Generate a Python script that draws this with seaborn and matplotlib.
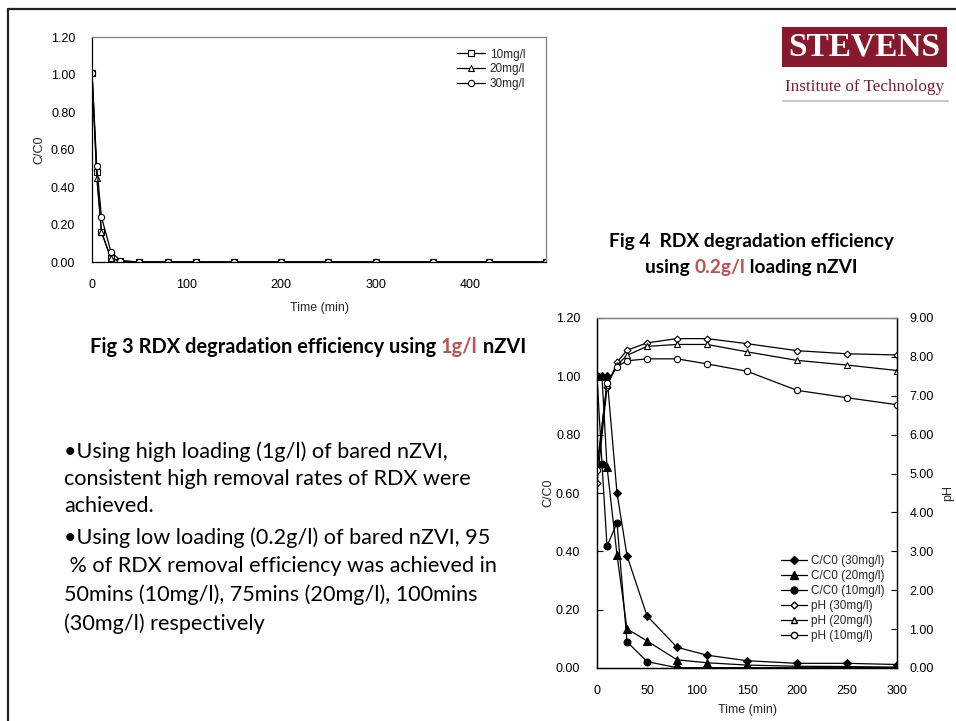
import numpy as np
import pandas as pd
import matplotlib
matplotlib.use('Agg')
import matplotlib.pyplot as plt
from matplotlib.patches import Rectangle
from matplotlib.lines import Line2D
import seaborn as sns

# Fig 3 data (1 g/l nZVI)
t3 = [0, 5, 10, 20, 30, 50, 80, 110, 150, 200, 250, 300, 360, 420, 480]
c3_10 = [1.01, 0.48, 0.16, 0.02, 0.005, 0, 0, 0, 0, 0, 0, 0, 0, 0, 0]
c3_20 = [1.01, 0.45, 0.16, 0.02, 0.003, 0, 0, 0, 0, 0, 0, 0, 0, 0, 0]
c3_30 = [1.01, 0.51, 0.24, 0.055, 0.008, 0, 0, 0, 0, 0, 0, 0, 0, 0, 0]

# Fig 4 data (0.2 g/l nZVI)
t4 = [0, 5, 10, 20, 30, 50, 80, 110, 150, 200, 250, 300]
c4_30 = [1.0, 1.0, 1.0, 0.60, 0.385, 0.179, 0.071, 0.044, 0.025, 0.016, 0.016, 0.012]
c4_20 = [1.0, 1.0, 0.69, 0.388, 0.134, 0.093, 0.028, 0.018, 0.010, 0.006, 0.005, 0.003]
c4_10 = [1.0, 0.70, 0.417, 0.498, 0.090, 0.022, 0.001, 0.001, 0.001, 0.001, 0.001, 0.001]
t4_ph = [0, 10, 20, 30, 50, 80, 110, 150, 200, 250, 300]
ph_30 = [4.76, 7.22, 7.86, 8.17, 8.36, 8.47, 8.47, 8.34, 8.16, 8.08, 8.05]
ph_20 = [5.18, 7.28, 7.79, 8.04, 8.27, 8.32, 8.32, 8.13, 7.91, 7.79, 7.65]
ph_10 = [5.09, 7.34, 7.75, 7.90, 7.95, 7.95, 7.82, 7.63, 7.14, 6.95, 6.77]

bullets = [
    "\u2022Using high loading (1g/l) of bared nZVI,",
    "consistent high removal rates of RDX were",
    "achieved.",
    "\u2022Using low loading (0.2g/l) of bared nZVI, 95",
    " % of RDX removal efficiency was achieved in",
    "50mins (10mg/l), 75mins (20mg/l), 100mins",
    "(30mg/l) respectively",
]

W, H = 956, 721
RED = "#c0504d"
LOGO = "#86192b"

sns.set_theme(style="white")
plt.rcParams['font.family'] = ['Liberation Sans', 'DejaVu Sans']
plt.rcParams['axes.linewidth'] = 0.9

fig = plt.figure(figsize=(W / 100, H / 100), dpi=100)
fig.patch.set_facecolor("white")


def px(x, y):
    return x / W, 1 - y / H


def style_axes(ax):
    for s in ax.spines.values():
        s.set_color("black")
        s.set_linewidth(0.9)
    ax.spines["top"].set_color("#808080")
    ax.tick_params(direction="in", length=4, width=0.8, labelsize=9, colors="black", pad=12)
    ax.yaxis.set_major_formatter(matplotlib.ticker.FormatStrFormatter("%.2f"))


# ---------------- Fig 3 ----------------
ax3 = fig.add_axes([92 / W, 1 - 262 / H, 454 / W, 225 / H])
kw3 = dict(color="black", linewidth=0.9, markersize=4.5, markerfacecolor="white",
           markeredgecolor="black", markeredgewidth=0.8, ax=ax3)
sns.lineplot(x=t3, y=c3_10, marker="s", label="10mg/l", **kw3)
sns.lineplot(x=t3, y=c3_20, marker="^", label="20mg/l", **kw3)
sns.lineplot(x=t3, y=c3_30, marker="o", label="30mg/l", **kw3)
ax3.set_xlim(0, 480)
ax3.set_ylim(0, 1.2)
ax3.set_xticks([0, 100, 200, 300, 400])
ax3.set_yticks(np.arange(0, 1.21, 0.2))
style_axes(ax3)
ax3.spines["right"].set_color("#808080")
ax3.set_xlabel("Time (min)", fontsize=9, labelpad=8)
ax3.set_ylabel("C/C0", fontsize=9, labelpad=4)
ax3.legend(loc="upper left", bbox_to_anchor=(0.79, 0.975), frameon=False, fontsize=8.5,
           handlelength=2.4, handletextpad=0.4, labelspacing=0.25, borderpad=0)

# ---------------- Fig 4 ----------------
ax4 = fig.add_axes([597 / W, 1 - 668 / H, 300 / W, 350 / H])
ax4b = ax4.twinx()
kwc = dict(color="black", linewidth=0.9, markeredgecolor="black", ax=ax4)
sns.lineplot(x=t4, y=c4_30, marker="D", markersize=4.5, **kwc)
sns.lineplot(x=t4, y=c4_20, marker="^", markersize=5.5, **kwc)
sns.lineplot(x=t4, y=c4_10, marker="o", markersize=5, **kwc)
kwp = dict(color="black", linewidth=0.9, markerfacecolor="white", markeredgecolor="black",
           markeredgewidth=0.8, ax=ax4b)
sns.lineplot(x=t4_ph, y=ph_30, marker="D", markersize=3.5, **kwp)
sns.lineplot(x=t4_ph, y=ph_20, marker="^", markersize=5, **kwp)
sns.lineplot(x=t4_ph, y=ph_10, marker="o", markersize=4.5, **kwp)
ax4.set_xlim(0, 300)
ax4.set_ylim(0, 1.2)
ax4b.set_ylim(0, 9)
ax4.set_xticks(range(0, 301, 50))
ax4.set_yticks(np.arange(0, 1.21, 0.2))
ax4b.set_yticks(range(0, 10))
style_axes(ax4)
style_axes(ax4b)
ax4b.tick_params(pad=9)
ax4.set_xlabel("Time (min)", fontsize=9, labelpad=5)
ax4.set_ylabel("C/C0", fontsize=9, labelpad=1)
ax4b.set_ylabel("pH", fontsize=9, rotation=90, labelpad=6)

handles = [
    Line2D([], [], color="black", lw=0.9, marker="D", markersize=4.5),
    Line2D([], [], color="black", lw=0.9, marker="^", markersize=5.5),
    Line2D([], [], color="black", lw=0.9, marker="o", markersize=5),
    Line2D([], [], color="black", lw=0.9, marker="D", markersize=3.5, mfc="white"),
    Line2D([], [], color="black", lw=0.9, marker="^", markersize=5, mfc="white"),
    Line2D([], [], color="black", lw=0.9, marker="o", markersize=4.5, mfc="white"),
]
labels = ["C/C0 (30mg/l)", "C/C0 (20mg/l)", "C/C0 (10mg/l)",
          "pH (30mg/l)", "pH (20mg/l)", "pH (10mg/l)"]
ax4b.legend(handles, labels, loc="upper left", bbox_to_anchor=(0.595, 0.34), frameon=False,
            fontsize=8.5, handlelength=2.2, handletextpad=0.3, labelspacing=0.25, borderpad=0)

# ---------------- slide text ----------------
renderer = fig.canvas.get_renderer()


def text_width(s, **kw):
    t1 = fig.text(0, 0, s + "|", **kw)
    t2 = fig.text(0, 0, "|", **kw)
    w = t1.get_window_extent(renderer).width - t2.get_window_extent(renderer).width
    t1.remove()
    t2.remove()
    return w


def rich_line(xc, y, parts, **kw):
    full = "".join(p for p, _ in parts)
    total = text_width(full, **kw)
    x0 = xc - total / 2
    prefix = ""
    for s, c in parts:
        x = x0 + (text_width(prefix, **kw) if prefix else 0)
        fig.text(*px(x, y), s, color=c, ha="left", va="center", **kw)
        prefix += s


cap = dict(family=["Lato", "DejaVu Sans"], weight="bold")
rich_line(308, 347, [("Fig 3 RDX degradation efficiency using ", "black"), ("1g/l", RED),
                     (" nZVI", "black")], fontsize=14.4, **cap)
rich_line(751, 241, [("Fig 4  RDX degradation efficiency", "black")], fontsize=13.8, **cap)
rich_line(751, 267, [("using ", "black"), ("0.2g/l", RED), (" loading nZVI", "black")],
          fontsize=13.8, **cap)

bullet_y = [452, 479, 506, 538, 566, 595, 624]
for line, y in zip(bullets, bullet_y):
    fig.text(*px(64, y), line, family=["Lato", "DejaVu Sans"], fontsize=15.6,
             color="black", ha="left", va="center")

# logo
fig.add_artist(Rectangle(px(782, 67), 165 / W, 40 / H, transform=fig.transFigure,
                         facecolor=LOGO, edgecolor="none"))
fig.text(*px(864, 47), "STEVENS", family=["Liberation Serif"], weight="bold",
         fontsize=24, color="white", ha="center", va="center")
fig.text(*px(865, 87), "Institute of Technology", family=["Liberation Serif"],
         fontsize=12.3, color=LOGO, ha="center", va="center")
fig.add_artist(Line2D([783 / W, 948 / W], [1 - 101 / H] * 2, transform=fig.transFigure,
                      color="#c8c8c8", lw=1.5))

# slide frame
fig.add_artist(Line2D([8 / W, 1], [1 - 9 / H] * 2, transform=fig.transFigure, color="#222222", lw=1.6))
fig.add_artist(Line2D([8 / W] * 2, [0, 1 - 9 / H], transform=fig.transFigure, color="#222222", lw=1.6))

fig.savefig("out.png", dpi=100)
